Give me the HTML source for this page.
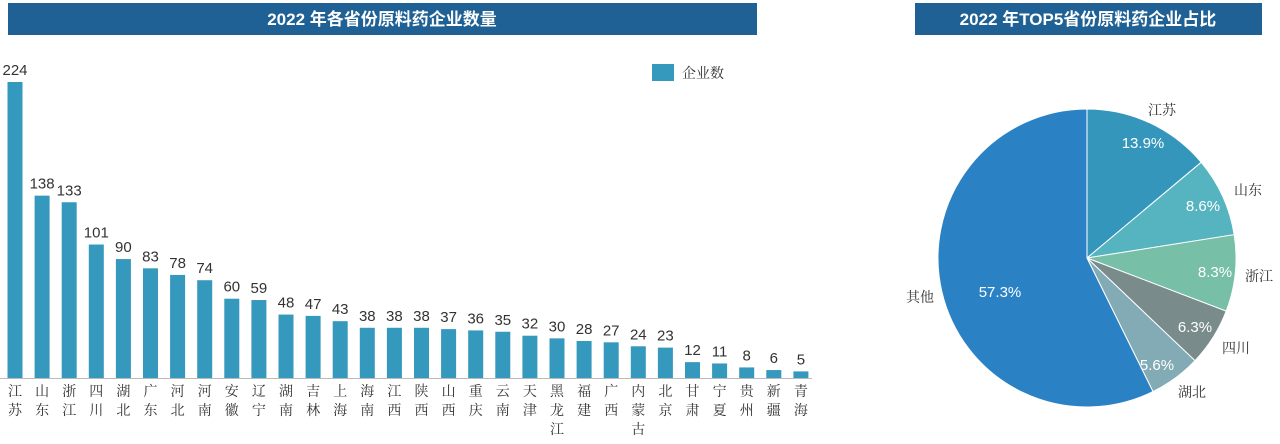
<!DOCTYPE html>
<html><head><meta charset="utf-8"><style>
html,body{margin:0;padding:0;background:#fff;width:1280px;height:444px;overflow:hidden}
svg{display:block}
text{font-family:"Liberation Sans","Noto Sans CJK SC",sans-serif}
.cn{font-family:"Noto Serif CJK SC","Noto Sans CJK SC",serif}
</style></head><body>
<svg id="s" width="1280" height="444" xmlns="http://www.w3.org/2000/svg">
<rect x="8" y="3" width="749" height="32" fill="#1f6194"/>
<text x="382" y="25" fill="#fff" font-size="17" font-weight="bold" text-anchor="middle">2022 年各省份原料药企业数量</text>
<rect x="915" y="3" width="347" height="32" fill="#1f6194"/>
<text x="1088" y="25" fill="#fff" font-size="17" font-weight="bold" text-anchor="middle">2022 年TOP5省份原料药企业占比</text>
<rect x="652" y="64" width="22" height="17" fill="#3598bd"/>
<text class="cn" x="682" y="78" font-size="14" fill="#333">企业数</text>
<g id="bars"></g>
<g id="pie"></g>
</svg>
<script>
var names=["江苏","山东","浙江","四川","湖北","广东","河北","河南","安徽","辽宁","湖南","吉林","上海","海南","江西","陕西","山西","重庆","云南","天津","黑龙江","福建","广西","内蒙古","北京","甘肃","宁夏","贵州","新疆","青海"];
var vals=[224,138,133,101,90,83,78,74,60,59,48,47,43,38,38,38,37,36,35,32,30,28,27,24,23,12,11,8,6,5];
var h="";
for(var i=0;i<30;i++){var cx=15+i*27.1,bh=vals[i]*296/224,y=378-bh;
h+='<rect x="'+(cx-7.5)+'" y="'+y+'" width="15" height="'+bh+'" fill="#3598bd"/>';
h+='<text x="'+cx+'" y="'+(y-7)+'" font-size="15" fill="#333" text-anchor="middle">'+vals[i]+'</text>';
for(var j=0;j<names[i].length;j++)h+='<text class="cn" x="'+cx+'" y="'+(396+j*19)+'" font-size="14" fill="#333" text-anchor="middle">'+names[i][j]+'</text>';}
h+='<line x1="0" y1="378.5" x2="812" y2="378.5" stroke="#bbb"/>';
document.getElementById("bars").innerHTML=h;
var p=[[13.9,"#3596bc","江苏"],[8.6,"#55b4c0","山东"],[8.3,"#77bfa6","浙江"],[6.3,"#7a8b8c","四川"],[5.6,"#83abb5","湖北"],[57.3,"#2a82c5","其他"]];
var cx=1087,cy=258,r=149,a=-Math.PI/2,g="";
var lp=[[1162,110],[1248,190],[1259,276],[1236,348],[1192,392],[920,297]];
var pp=[[1143,143],[1203,206],[1215,272],[1195,327],[1157,365],[1000,292]];
for(var k=0;k<6;k++){var a2=a+p[k][0]/100*2*Math.PI;
var x1=cx+r*Math.cos(a),y1=cy+r*Math.sin(a),x2=cx+r*Math.cos(a2),y2=cy+r*Math.sin(a2);
g+='<path d="M'+cx+' '+cy+'L'+x1+' '+y1+'A'+r+' '+r+' 0 '+(p[k][0]>50?1:0)+' 1 '+x2+' '+y2+'Z" fill="'+p[k][1]+'" stroke="#fff" stroke-width="1"/>';a=a2;}
for(k=0;k<6;k++){g+='<text x="'+pp[k][0]+'" y="'+(pp[k][1]+5)+'" font-size="15" fill="#fff" text-anchor="middle">'+p[k][0].toFixed(1)+'%</text>';
g+='<text class="cn" x="'+lp[k][0]+'" y="'+(lp[k][1]+5)+'" font-size="14" fill="#333" text-anchor="middle">'+p[k][2]+'</text>';}
document.getElementById("pie").innerHTML=g;
</script>
</body></html>
